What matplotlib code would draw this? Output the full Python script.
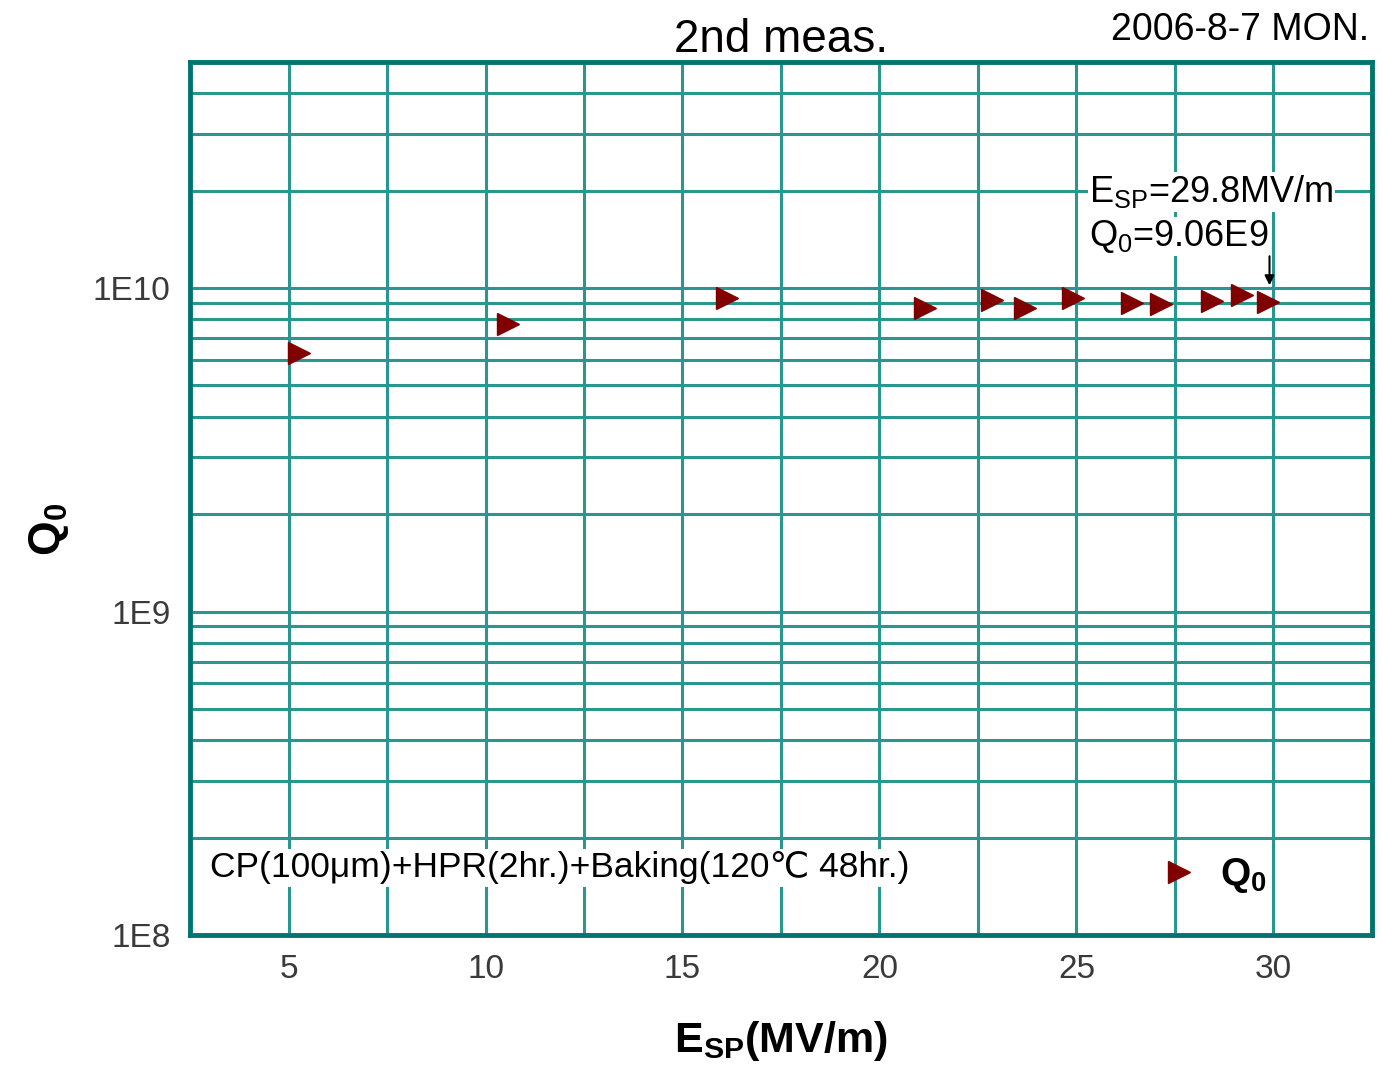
import matplotlib
matplotlib.use("Agg")
import matplotlib.pyplot as plt
from matplotlib.lines import Line2D
from matplotlib.ticker import FixedLocator, LogLocator, NullFormatter, MultipleLocator

plt.rcParams['font.family'] = ['Liberation Sans', 'DejaVu Sans']
plt.rcParams['mathtext.fontset'] = 'custom'
plt.rcParams['mathtext.rm'] = 'Liberation Sans'
plt.rcParams['mathtext.bf'] = 'Liberation Sans:bold'
plt.rcParams['mathtext.it'] = 'Liberation Sans'

# ---- data ----
esp = [5.27, 10.56, 16.14, 21.15, 22.85, 23.7, 24.9, 26.4, 27.15, 28.45, 29.2, 29.85]
q0 = [6.31e9, 7.73e9, 9.29e9, 8.67e9, 9.2e9, 8.7e9, 9.3e9, 9.0e9, 8.9e9, 9.1e9, 9.5e9, 9.06e9]
x_ticks = [5, 10, 15, 20, 25, 30]
y_ticks = [1e8, 1e9, 1e10]
y_ticklabels = ["1E8", "1E9", "1E10"]

GRID = "#2a9690"
FRAME = "#00756d"
MARK = "#800000"

fig = plt.figure(figsize=(13.83, 10.66), dpi=100)
ax = fig.add_axes([0.1374, 0.1229, 0.8546, 0.8189])

ax.plot(esp, q0, linestyle="none", marker=">", markersize=16,
        color=MARK, zorder=5)

ax.set_yscale("log")
ax.set_xlim(2.5, 32.5)
ax.set_ylim(1e8, 5e10)

ax.xaxis.set_major_locator(FixedLocator(x_ticks))
ax.xaxis.set_minor_locator(MultipleLocator(2.5))
ax.yaxis.set_major_locator(FixedLocator(y_ticks))
ax.set_yticklabels(y_ticklabels)
ax.yaxis.set_minor_locator(LogLocator(base=10, subs=range(2, 10)))
ax.yaxis.set_minor_formatter(NullFormatter())

ax.grid(True, which="both", color=GRID, linewidth=2.2)
ax.set_axisbelow(True)
ax.tick_params(which="both", length=0)
ax.tick_params(axis="both", labelsize=24, labelcolor="#3a3a3a", pad=14)
ax.tick_params(axis="y", pad=14)
for s in ax.spines.values():
    s.set_color(FRAME)
    s.set_linewidth(3.5)

ax.set_xlabel(r"$\mathbf{E_{SP}}$(MV/m)", fontsize=31, fontweight="bold", labelpad=24)
ax.set_ylabel(r"$\mathbf{Q_0}$", fontsize=32)
ax.yaxis.set_label_coords(-0.101, 0.464)
ax.set_title("2nd meas.", fontsize=33, pad=4)
fig.text(0.99, 0.972, "2006-8-7 MON.", fontsize=27, ha="right", va="center")

# annotation on the last point
ax.text(25.33, 1.84e10, r"E$_{\mathrm{SP}}$=29.8MV/m", fontsize=26, va="baseline",
        bbox=dict(facecolor="white", edgecolor="none", pad=1), zorder=6)
ax.text(25.33, 1.35e10, r"Q$_0$=9.06E9", fontsize=26, va="baseline",
        bbox=dict(facecolor="white", edgecolor="none", pad=1), zorder=6)
ax.annotate("", xy=(29.9, 1.0e10), xytext=(29.9, 1.28e10),
            arrowprops=dict(arrowstyle="-|>", color="black", lw=1.5, mutation_scale=14),
            zorder=7)

# process note
ax.text(0.017, 0.066, "CP(100μm)+HPR(2hr.)+Baking(120℃ 48hr.)", transform=ax.transAxes,
        fontsize=25.5, va="baseline", ha="left",
        bbox=dict(facecolor="white", edgecolor="none", pad=2), zorder=6)

handle = Line2D([], [], linestyle="none", marker=">", markersize=16, color=MARK)
leg = ax.legend([handle], [r"$\mathbf{Q_0}$"], loc="center left",
                bbox_to_anchor=(0.797, 0.068), frameon=False, fontsize=28,
                handlelength=1.0, handletextpad=0.55, borderpad=0.2)
leg.get_texts()[0].set_bbox(dict(facecolor="white", edgecolor="none", pad=3))

fig.savefig("out.png", dpi=100)
